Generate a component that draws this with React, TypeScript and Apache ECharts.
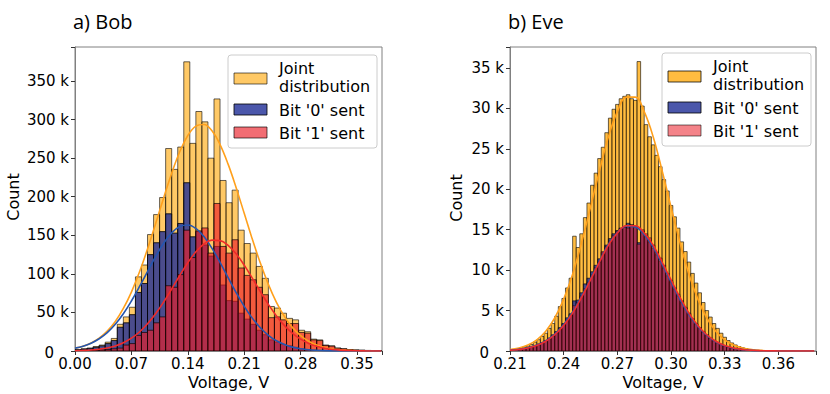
import React, { useEffect, useRef } from 'react';
import * as echarts from 'echarts';

// ---------- Bob (panel a) histogram, counts in thousands ----------
const bobBinStart = 0;
const bobBinWidth = 0.0075;
const bobJoint = [1.9, 2.9, 3.8, 5.8, 7.7, 11.5, 16.3, 34.6, 44.2, 56.7, 96.1, 111.5, 150.9, 176.8, 198.9, 262.4, 235.4, 264.3, 374.8, 269.1, 310.4, 297, 249.9, 326.7, 221, 192.2, 208.5, 156.6, 139.3, 126.9, 109.6, 94.2, 57.7, 55.7, 49, 42.3, 40.4, 26.9, 25, 15.4, 14.4, 7.7, 6.7, 3.8, 2.9, 1.9, 1.4, 1, 0.7, 0.4, 0.2];
const bobBit0 = [1.4, 2.4, 3.4, 4.8, 6.7, 9.6, 13.5, 30.8, 36.5, 47.1, 75.9, 87.5, 124.9, 140.3, 154.7, 177.8, 152.8, 165.3, 218.1, 148, 154.7, 137.4, 123, 135.5, 85.5, 65.3, 64.4, 49, 41.3, 34.6, 26.9, 21.1, 14.4, 11.5, 8.6, 6.7, 4.8, 2.9, 1.9, 1.2, 0.8, 0.5, 0.3, 0.2, 0.1, 0.05, 0, 0, 0, 0, 0];
const bobBit1 = [0.3, 0.5, 0.7, 1, 1.4, 1.9, 2.9, 3.8, 7.7, 9.6, 20.2, 24, 26.9, 36.5, 44.2, 84.6, 82.6, 99, 156.6, 121.1, 155.7, 159.5, 126.9, 191.2, 135.5, 126.9, 144.2, 107.6, 98, 92.3, 82.6, 73, 43.2, 44.2, 40.4, 35.6, 35.6, 24, 23.1, 14.4, 13.5, 7.2, 6.3, 3.7, 2.8, 1.8, 1.3, 1, 0.7, 0.4, 0.2];

// fitted curves
const bobFitV = [0, 0.01, 0.02, 0.03, 0.04, 0.05, 0.06, 0.07, 0.08, 0.09, 0.1, 0.11, 0.12, 0.13, 0.14, 0.15, 0.16, 0.17, 0.18, 0.19, 0.2, 0.21, 0.22, 0.23, 0.24, 0.25, 0.26, 0.27, 0.28, 0.29, 0.3, 0.31, 0.32, 0.33, 0.34, 0.35, 0.36, 0.37, 0.38];
const bobFitJoint = [3.7, 6.2, 10.4, 16.6, 25.7, 38.2, 55.1, 76.4, 102.3, 132.2, 165, 198.4, 230.5, 258.2, 279.3, 291.5, 293.6, 285.3, 267.6, 242.2, 211.7, 178.4, 145, 114, 86.3, 63, 44.5, 30.3, 20, 12.6, 7.7, 4.5, 2.6, 1.4, 0.8, 0.4, 0.2, 0.1, 0.05];
const bobFitBit0 = [3.7, 6.2, 10.1, 15.9, 23.9, 34.7, 48.3, 64.8, 83.3, 103, 122.3, 139.6, 153.1, 161.3, 163.3, 158.8, 148.3, 133.1, 114.8, 95.1, 75.7, 57.9, 42.6, 30.1, 20.4, 13.3, 8.4, 5, 2.9, 1.6, 0.9, 0.44, 0.2, 0.1, 0.05, 0.02, 0, 0, 0];
const bobFitBit1 = [0.34, 0.7, 1.2, 2.3, 3.9, 6.6, 10.7, 16.6, 24.6, 35.2, 48.2, 63.5, 80.4, 97.9, 114.4, 128.5, 138.7, 143.7, 143.1, 136.9, 125.9, 111.3, 94.4, 77, 60.4, 45.5, 32.9, 22.9, 15.3, 9.8, 6.1, 3.6, 2, 1.1, 0.6, 0.3, 0.14, 0.07, 0.03];

// ---------- Eve (panel b) histogram, counts in thousands ----------
const eveBinStart = 0.211;
const eveBinWidth = 0.002;
const eveJoint = [0.2, 0.25, 0.35, 0.5, 0.6, 0.8, 1.1, 1.4, 1.8, 2.2, 2.8, 3.4, 4.3, 5.5, 6.5, 7.8, 9.0, 14.2, 12.8, 14.5, 16.5, 18.3, 20.5, 22.0, 23.8, 25.2, 27.0, 28.8, 29.9, 30.5, 31.2, 31.5, 31.7, 31.2, 31.0, 35.8, 30.3, 28.0, 26.5, 25.5, 24.2, 22.8, 21.2, 19.8, 18.0, 16.6, 15.2, 13.5, 12.3, 11.0, 9.6, 8.4, 7.2, 6.0, 5.0, 4.2, 3.4, 2.8, 2.2, 1.7, 1.3, 1.0, 0.75, 0.55, 0.4, 0.3, 0.2, 0.15, 0.1, 0.08, 0.06, 0.05, 0.04, 0.03, 0.02, 0.02, 0.01, 0.01, 0.01, 0, 0, 0, 0, 0, 0];
const eveBit0 = [0.13, 0.17, 0.23, 0.3, 0.4, 0.5, 0.65, 0.85, 1.05, 1.3, 1.6, 2.0, 2.4, 2.9, 3.4, 4.1, 4.6, 6.2, 6.3, 7.2, 8.3, 9.0, 9.8, 10.6, 11.4, 12.2, 13.1, 13.9, 14.5, 14.9, 15.2, 15.4, 15.8, 15.6, 15.3, 13.4, 14.8, 14.2, 13.5, 12.7, 11.9, 11.1, 10.2, 9.3, 8.5, 7.6, 6.8, 6.0, 5.3, 4.6, 3.9, 3.3, 2.8, 2.3, 1.9, 1.55, 1.25, 1.0, 0.8, 0.62, 0.48, 0.37, 0.28, 0.21, 0.16, 0.12, 0.09, 0.06, 0.045, 0.03, 0.02, 0.015, 0.01, 0.008, 0.005, 0, 0, 0, 0, 0, 0, 0, 0, 0, 0];
const eveBit1 = [0.1, 0.14, 0.19, 0.26, 0.34, 0.44, 0.58, 0.76, 0.95, 1.2, 1.5, 1.85, 2.25, 2.75, 3.25, 3.8, 4.4, 5.6, 6.0, 6.8, 7.7, 8.5, 9.4, 10.3, 11.0, 12.3, 12.9, 13.6, 14.3, 14.8, 15.1, 15.3, 15.2, 15.6, 15.4, 13.2, 15.0, 14.5, 14.0, 13.1, 12.2, 11.5, 10.6, 9.6, 8.7, 7.8, 7.0, 6.2, 5.4, 4.7, 4.0, 3.4, 2.9, 2.4, 2.0, 1.6, 1.3, 1.05, 0.83, 0.65, 0.5, 0.39, 0.3, 0.22, 0.17, 0.13, 0.1, 0.07, 0.05, 0.035, 0.025, 0.018, 0.012, 0.008, 0.005, 0, 0, 0, 0, 0, 0, 0, 0, 0, 0];

const eveFitV = [0.21, 0.215, 0.22, 0.225, 0.23, 0.235, 0.24, 0.245, 0.25, 0.255, 0.26, 0.265, 0.27, 0.275, 0.28, 0.285, 0.29, 0.295, 0.3, 0.305, 0.31, 0.315, 0.32, 0.325, 0.33, 0.335, 0.34, 0.345, 0.35, 0.355, 0.36, 0.365, 0.37, 0.375, 0.38];
const eveFitJoint = [0.18, 0.38, 0.75, 1.39, 2.45, 4.08, 6.41, 9.5, 13.4, 17.8, 22.3, 26.5, 29.6, 31.4, 31.4, 29.6, 26.5, 22.3, 17.8, 13.4, 9.5, 6.41, 4.08, 2.45, 1.39, 0.75, 0.38, 0.18, 0.08, 0.03, 0.015, 0.005, 0, 0, 0];
const eveFitBit0 = [0.1, 0.2, 0.4, 0.73, 1.27, 2.09, 3.27, 4.82, 6.76, 8.93, 11.1, 13.2, 14.65, 15.45, 15.35, 14.4, 12.85, 10.75, 8.55, 6.4, 4.5, 3.02, 1.92, 1.14, 0.65, 0.35, 0.17, 0.08, 0.035, 0.013, 0.005, 0.002, 0, 0, 0];
const eveFitBit1 = [0.09, 0.19, 0.37, 0.69, 1.21, 2.01, 3.16, 4.69, 6.62, 8.79, 11.0, 13.1, 14.6, 15.5, 15.5, 14.6, 13.1, 11.0, 8.79, 6.62, 4.69, 3.16, 2.01, 1.21, 0.69, 0.37, 0.19, 0.09, 0.04, 0.015, 0.007, 0.002, 0, 0, 0];

const panelTitles = ['a) Bob', 'b) Eve'];
const legendLabels = ['Joint\ndistribution', "Bit '0' sent", "Bit '1' sent"];

const ORANGE = '#FFA500';
const BLUE = '#1E2D96';
const RED = '#EB1E28';
const TICK_FONT = 'DejaVu Sans';

function binData(start: number, width: number, counts: number[]) {
  const out: number[][] = [];
  counts.forEach((c, i) => {
    if (c > 0) out.push([start + i * width, start + (i + 1) * width, c]);
  });
  return out;
}

function histSeries(idx: number, data: number[][], color: string, opacity: number, lw: number) {
  return {
    type: 'custom',
    xAxisIndex: idx,
    yAxisIndex: idx,
    data,
    encode: { x: [0, 1], y: 2 },
    clip: true,
    silent: true,
    z: 2,
    renderItem: (params: any, api: any) => {
      const a = api.coord([api.value(0), api.value(2)]);
      const b = api.coord([api.value(1), 0]);
      return {
        type: 'rect',
        shape: { x: a[0], y: a[1], width: b[0] - a[0], height: b[1] - a[1] },
        style: { fill: color, stroke: '#000', lineWidth: lw, opacity },
      };
    },
  };
}

function lineSeries(idx: number, xs: number[], ys: number[], color: string) {
  return {
    type: 'line',
    xAxisIndex: idx,
    yAxisIndex: idx,
    data: xs.map((x, i) => [x, ys[i]]),
    smooth: 0.4,
    symbol: 'none',
    silent: true,
    clip: true,
    z: 5,
    lineStyle: { color, width: 1.6 },
  };
}

function multipleOf(v: number, step: number) {
  const r = v / step;
  return Math.abs(r - Math.round(r)) < 1e-6;
}

function xAxisCfg(idx: number, min: number, max: number, interval: number) {
  return {
    gridIndex: idx,
    type: 'value',
    min,
    max,
    interval,
    axisLine: { show: true, onZero: false, lineStyle: { color: '#808080', width: 1 } },
    axisTick: { show: true, length: 4, lineStyle: { color: '#333' } },
    axisLabel: {
      show: true,
      margin: 5,
      color: '#000',
      fontFamily: TICK_FONT,
      fontSize: 15,
      formatter: (v: number) => (multipleOf(v, interval) ? v.toFixed(2) : ''),
    },
    splitLine: { show: false },
  };
}

function yAxisCfg(idx: number, max: number, interval: number) {
  return {
    gridIndex: idx,
    type: 'value',
    min: 0,
    max,
    interval,
    axisLine: { show: true, onZero: false, lineStyle: { color: '#808080', width: 1 } },
    axisTick: { show: true, length: 4, lineStyle: { color: '#333' } },
    axisLabel: {
      show: true,
      margin: 6,
      color: '#000',
      fontFamily: TICK_FONT,
      fontSize: 15,
      formatter: (v: number) => (multipleOf(v, interval) ? (v === 0 ? '{z|0}' : `${Math.round(v)} k`) : ''),
      rich: {
        z: { fontFamily: TICK_FONT, fontSize: 15, color: '#000', padding: [4, 15, 0, 0] },
      },
    },
    splitLine: { show: false },
  };
}

function legendGraphic(bx: number, by: number, op: number[]) {
  const font = `16px "${TICK_FONT}"`;
  const colors = [ORANGE, BLUE, RED];
  const patchY = [18, 49, 72];
  const els: any[] = [
    {
      type: 'rect',
      shape: { x: bx, y: by, width: 149, height: 93, r: 3 },
      style: { fill: 'rgba(255,255,255,0.8)', stroke: '#cccccc', lineWidth: 1 },
    },
  ];
  colors.forEach((c, i) => {
    els.push({
      type: 'rect',
      shape: { x: bx + 6, y: by + patchY[i], width: 33, height: 11 },
      style: { fill: c, stroke: '#000', lineWidth: 1, opacity: op[i] },
    });
  });
  const lines: [string, number][] = [
    [legendLabels[0], 22.5],
    [legendLabels[1], 55],
    [legendLabels[2], 78],
  ];
  lines.forEach(([t, dy]) => {
    els.push({
      type: 'text',
      x: bx + 51,
      y: by + dy,
      style: {
        text: t,
        font,
        lineHeight: 18,
        fill: '#000',
        align: 'left',
        verticalAlign: 'middle',
        textAlign: 'left',
        textVerticalAlign: 'middle',
      },
    });
  });
  return els;
}

function textEl(text: string, x: number, y: number, font: string, align = 'center', rotation = 0) {
  return {
    type: 'text',
    x,
    y,
    rotation,
    style: {
      text,
      font,
      fill: '#000',
      align,
      verticalAlign: 'middle',
      textAlign: align,
      textVerticalAlign: 'middle',
    },
  };
}

export default function App() {
  const ref = useRef<HTMLDivElement>(null);
  useEffect(() => {
    document.body.style.margin = '0';
    if (!ref.current) return;
    const chart = echarts.init(ref.current, undefined, { renderer: 'svg' });
    const labelFont = `16px "${TICK_FONT}"`;
    const titleFont = `20px "Open Sans"`;
    const option: any = {
      animation: false,
      backgroundColor: '#fff',
      grid: [
        { left: 75, top: 47, width: 307, height: 304, show: true, borderColor: '#808080', borderWidth: 1, backgroundColor: 'transparent' },
        { left: 510, top: 47, width: 306, height: 304, show: true, borderColor: '#808080', borderWidth: 1, backgroundColor: 'transparent' },
      ],
      xAxis: [xAxisCfg(0, 0, 0.381, 0.07), xAxisCfg(1, 0.21, 0.381, 0.03)],
      yAxis: [yAxisCfg(0, 394, 50), yAxisCfg(1, 37.6, 5)],
      series: [
        histSeries(0, binData(bobBinStart, bobBinWidth, bobJoint), ORANGE, 0.6, 1),
        histSeries(0, binData(bobBinStart, bobBinWidth, bobBit0), BLUE, 0.8, 1),
        histSeries(0, binData(bobBinStart, bobBinWidth, bobBit1), RED, 0.65, 1),
        lineSeries(0, bobFitV, bobFitJoint, '#FFA01C'),
        lineSeries(0, bobFitV, bobFitBit0, '#2456B0'),
        lineSeries(0, bobFitV, bobFitBit1, '#F02A2A'),
        histSeries(1, binData(eveBinStart, eveBinWidth, eveJoint), ORANGE, 0.75, 0.8),
        histSeries(1, binData(eveBinStart, eveBinWidth, eveBit0), BLUE, 0.8, 0.8),
        histSeries(1, binData(eveBinStart, eveBinWidth, eveBit1), RED, 0.55, 0.8),
        lineSeries(1, eveFitV, eveFitJoint, '#FFA01C'),
        lineSeries(1, eveFitV, eveFitBit0, '#2456B0'),
        lineSeries(1, eveFitV, eveFitBit1, '#F02A2A'),
      ],
      graphic: [
        textEl(panelTitles[0], 73, 21, titleFont, 'left'),
        textEl(panelTitles[1], 508, 21, titleFont, 'left'),
        textEl('Count', 13, 197, labelFont, 'center', Math.PI / 2),
        textEl('Count', 456, 198, labelFont, 'center', Math.PI / 2),
        textEl('Voltage, V', 228.5, 382, labelFont, 'center'),
        textEl('Voltage, V', 663, 382, labelFont, 'center'),
        ...legendGraphic(228, 55, [0.6, 0.8, 0.65]),
        ...legendGraphic(662, 53, [0.75, 0.8, 0.55]),
      ],
    };
    chart.setOption(option);
    return () => chart.dispose();
  }, []);
  return <div ref={ref} style={{ width: 830, height: 394 }} />;
}
